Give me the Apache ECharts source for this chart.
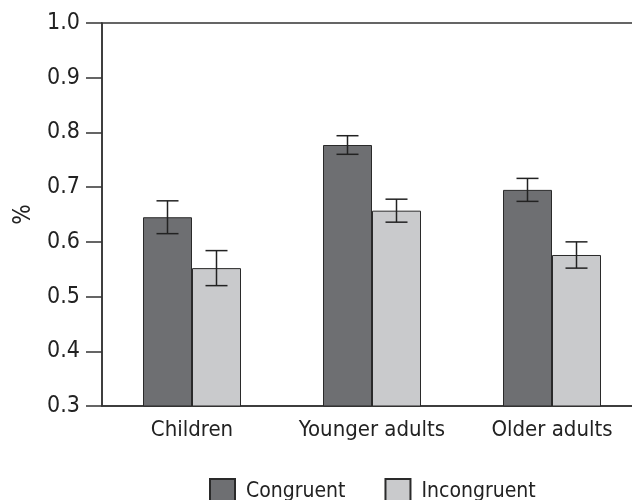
<!DOCTYPE html>
<html>
<head>
<meta charset="utf-8">
<script src="https://cdn.jsdelivr.net/npm/echarts@6/dist/echarts.min.js"></script>
<style>
  html, body { margin: 0; padding: 0; background: #fff; }
  #chart { width: 632px; height: 500px; }
</style>
</head>
<body>
<div id="chart"></div>
<script>
const categories = ["Children", "Younger adults", "Older adults"];
const congruent = [0.645, 0.777, 0.695];
const incongruent = [0.552, 0.657, 0.576];
const congruentErr = [0.03, 0.017, 0.021];
const incongruentErr = [0.032, 0.021, 0.024];
const yTicks = [0.3, 0.4, 0.5, 0.6, 0.7, 0.8, 0.9, 1.0];

const FONT = '"Liberation Sans Narrow", "DejaVu Sans Condensed", "Liberation Sans", sans-serif';
const INK = "#222";
const BAR_W = 49;

const errData = (means, errs) => means.map((m, i) => [i, m - errs[i], m + errs[i]]);

const errorSeries = (name, means, errs, side) => ({
  name: name + " err",
  type: "custom",
  z: 10,
  data: errData(means, errs),
  renderItem: (params, api) => {
    const lo = api.coord([api.value(0), api.value(1)]);
    const hi = api.coord([api.value(0), api.value(2)]);
    const x = lo[0] + side * BAR_W / 2;
    const cap = 11;
    const style = { stroke: INK, lineWidth: 1.5 };
    return {
      type: "group",
      children: [
        { type: "line", shape: { x1: x, y1: lo[1], x2: x, y2: hi[1] }, style },
        { type: "line", shape: { x1: x - cap, y1: hi[1], x2: x + cap, y2: hi[1] }, style },
        { type: "line", shape: { x1: x - cap, y1: lo[1], x2: x + cap, y2: lo[1] }, style },
      ],
    };
  },
});

const chart = echarts.init(document.getElementById("chart"));

chart.setOption({
  animation: false,
  textStyle: { fontFamily: FONT, color: INK },
  grid: {
    left: 102,
    width: 540,
    top: 23,
    bottom: 94,
    outerBoundsMode: "none",
    containLabel: false,
    show: true,
    borderColor: "#333",
    borderWidth: 1.5,
  },
  legend: {
    data: ["Congruent", "Incongruent"],
    left: 204,
    top: 473,
    itemWidth: 25,
    itemHeight: 25,
    itemGap: 39,
    icon: "rect",
    textStyle: { fontFamily: FONT, fontSize: 21, color: INK, padding: [0, 0, 0, 6] },
  },
  xAxis: {
    type: "category",
    data: categories,
    axisLine: { lineStyle: { color: "#333", width: 1.5 } },
    axisTick: { length: 16, lineStyle: { color: "#333", width: 1.5 } },
    axisLabel: { fontFamily: FONT, fontSize: 22, color: INK, margin: 13, interval: 0 },
  },
  yAxis: {
    type: "value",
    min: 0.3,
    max: 1.0,
    interval: 0.1,
    name: "%",
    nameLocation: "middle",
    nameRotate: 90,
    nameGap: 62,
    nameTextStyle: { fontFamily: FONT, fontSize: 24, color: INK },
    axisLine: { show: true, lineStyle: { color: "#333", width: 1.5 } },
    axisTick: { show: true, length: 16, lineStyle: { color: "#333", width: 1.5 } },
    splitLine: { show: false },
    axisLabel: {
      fontFamily: FONT,
      fontSize: 23,
      color: INK,
      margin: 22,
      formatter: (v) => {
        const t = yTicks.find((k) => Math.abs(k - v) < 1e-6);
        return t !== undefined ? t.toFixed(1) : "";
      },
    },
  },
  series: [
    {
      name: "Congruent",
      type: "bar",
      data: congruent,
      barWidth: BAR_W,
      barGap: "0%",
      itemStyle: { color: "#6e6f72", borderColor: "#2a2a2a", borderWidth: 1 },
    },
    {
      name: "Incongruent",
      type: "bar",
      data: incongruent,
      barWidth: BAR_W,
      barGap: "0%",
      itemStyle: { color: "#c9cacc", borderColor: "#2a2a2a", borderWidth: 1 },
    },
    errorSeries("Congruent", congruent, congruentErr, -1),
    errorSeries("Incongruent", incongruent, incongruentErr, 1),
  ],
});
</script>
</body>
</html>
